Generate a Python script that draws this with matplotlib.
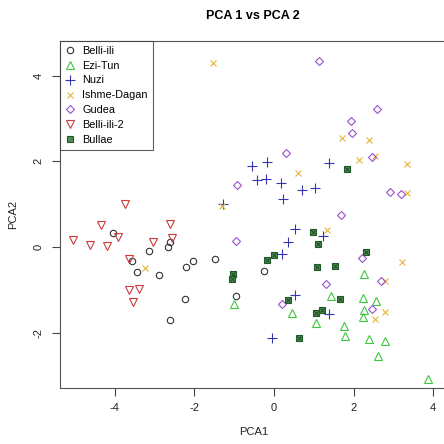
import matplotlib
matplotlib.use("Agg")
import matplotlib.pyplot as plt

plt.rcParams['font.family'] = ['Liberation Sans', 'DejaVu Sans']

# PCA scores, one pair of lists per group
belli_x = [-4.05, -2.62, -2.66, -3.13, -3.57, -3.45, -2.88, -2.22, -2.03, -2.23, -2.62, -1.48, -0.26, -0.96]
belli_y = [0.33, 0.11, 0.01, -0.10, -0.32, -0.58, -0.65, -0.47, -0.33, -1.21, -1.70, -0.28, -0.55, -1.14]

ezi_x = [-1.01, 0.44, 1.06, 2.25, 1.44, 2.23, 2.56, 2.25, 2.23, 1.75, 1.78, 2.39, 2.79, 2.61, 3.87]
ezi_y = [-1.34, -1.53, -1.77, -0.63, -1.14, -1.19, -1.25, -1.47, -1.64, -1.84, -2.08, -2.14, -2.20, -2.55, -3.08]

nuzi_x = [-0.56, -0.17, -0.42, -0.21, 0.18, 0.71, 1.03, 0.22, -1.27, 1.37, 0.52, 0.34, 0.19, 1.22, 0.53, 1.37, -0.04]
nuzi_y = [1.88, 1.99, 1.57, 1.58, 1.49, 1.33, 1.37, 1.12, 1.00, 1.96, 0.42, 0.11, -0.16, 0.26, -1.11, -1.57, -2.12]

ishme_x = [-3.23, -1.53, -1.31, 0.61, 1.71, 2.39, 2.13, 2.53, 3.35, 3.33, 1.33, 3.21, 2.80, 2.79, 2.55]
ishme_y = [-0.48, 4.30, 0.96, 1.72, 2.55, 2.50, 2.03, 2.13, 1.94, 1.26, 0.40, -0.36, -0.79, -1.52, -1.67]

gudea_x = [1.13, 2.58, 1.93, 1.97, 2.45, 2.91, 3.19, 1.69, 0.30, -0.94, -0.95, 1.30, 0.19, 2.22, 2.70, 2.45]
gudea_y = [4.34, 3.21, 2.94, 2.67, 2.10, 1.28, 1.24, 0.75, 2.19, 1.44, 0.15, -0.86, -1.32, -0.26, -0.79, -1.45]

belli2_x = [-3.75, -4.35, -2.61, -3.92, -5.04, -4.62, -4.20, -2.56, -3.03, -3.64, -3.64, -3.39, -3.54]
belli2_y = [1.00, 0.51, 0.53, 0.23, 0.16, 0.05, 0.02, 0.22, 0.11, -0.29, -1.01, -0.97, -1.28]

bullae_x = [0.97, 1.11, -0.01, -0.18, 1.08, -1.04, -1.06, 0.34, 1.05, 1.20, 0.64, 1.83, 2.32, 1.53, 1.65]
bullae_y = [0.36, 0.06, -0.19, -0.31, -0.47, -0.62, -0.74, -1.24, -1.55, -1.46, -2.12, 1.82, -0.12, -0.45, -1.21]

fig = plt.figure(figsize=(4.44, 4.44), dpi=100)
ax = fig.add_axes([0.135, 0.126, 0.872, 0.782])

ms = 4.6
lw = 0.8
ax.plot(belli_x, belli_y, 'o', mfc='none', mec='#333333', ms=ms, mew=lw, label='Belli-ili')
ax.plot(ezi_x, ezi_y, '^', mfc='none', mec='#3ec73e', ms=ms + 0.6, mew=lw, label='Ezi-Tun')
ax.plot(nuzi_x, nuzi_y, '+', color='#3535b5', ms=ms + 2, mew=lw, label='Nuzi')
ax.plot(ishme_x, ishme_y, 'x', color='#e8b53a', ms=ms, mew=lw, label='Ishme-Dagan')
ax.plot(gudea_x, gudea_y, 'D', mfc='none', mec='#9a4fd0', ms=ms - 0.3, mew=lw, label='Gudea')
ax.plot(belli2_x, belli2_y, 'v', mfc='none', mec='#cc3b3b', ms=ms + 0.6, mew=lw, label='Belli-ili-2')
# Bullae: square with a cross inside
ax.plot(bullae_x, bullae_y, 's', mfc='#4f8c55', mec='#1e5a26', ms=ms - 0.4, mew=lw, label='Bullae')
ax.plot(bullae_x, bullae_y, 'x', color='#173f1c', ms=ms - 1.8, mew=0.6)

ax.set_xlim(-5.38, 4.35)
ax.set_ylim(-3.29, 4.81)
ax.set_xticks([-4, -2, 0, 2, 4])
ax.set_yticks([-2, 0, 2, 4])
ax.set_xticklabels(['-4', '-2', '0', '2', '4'])
ax.set_yticklabels(['-2', '0', '2', '4'], rotation=90, va='center')
ax.tick_params(length=6, width=0.8, color='#444444', labelsize=8, labelcolor='#222222')
ax.tick_params(axis='x', pad=5)
ax.tick_params(axis='y', pad=6)

for s in ax.spines.values():
    s.set_color('#555555')
    s.set_linewidth(0.8)

ax.set_xlabel('PCA1', fontsize=8, color='#222222', labelpad=10)
ax.set_ylabel('PCA2', fontsize=8, color='#222222', labelpad=11)
fig.text(0.57, 0.963, 'PCA 1 vs PCA 2', ha='center', va='center', fontsize=9, fontweight='bold')

leg = ax.legend(loc='upper left', fontsize=7.8, frameon=True, fancybox=False,
                borderaxespad=0, labelspacing=0.45, handlelength=1.0,
                handletextpad=0.6, borderpad=0.45)
leg.get_frame().set_edgecolor('#333333')
leg.get_frame().set_linewidth(0.8)

fig.savefig('out.png', dpi=100)
